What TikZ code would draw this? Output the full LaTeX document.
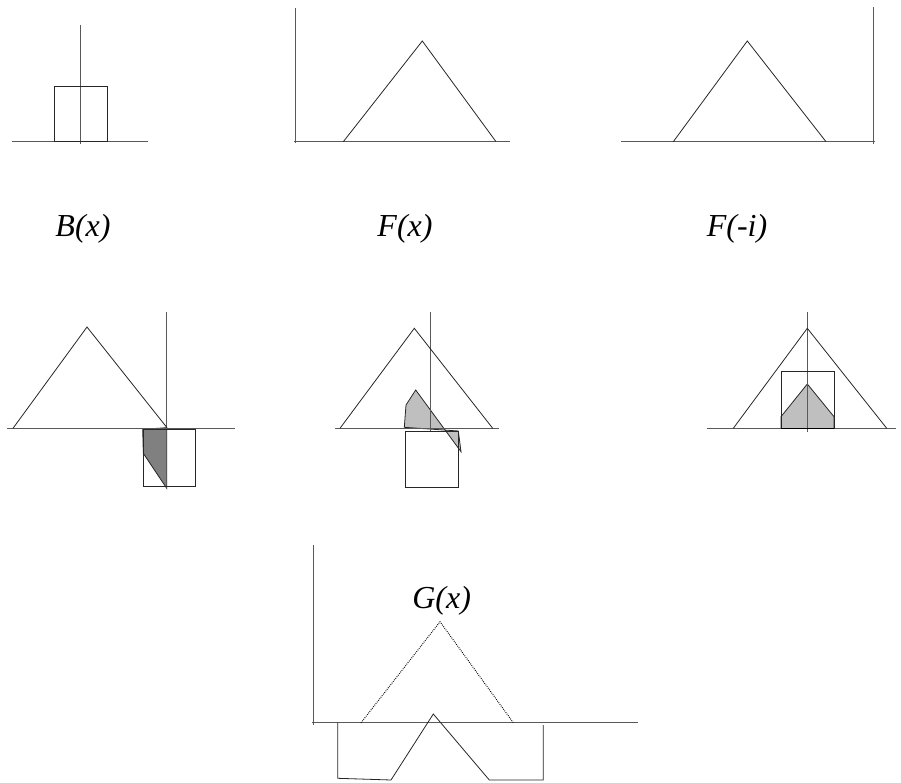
\documentclass[tikz,border=0pt]{standalone}
\usepackage{fontspec}
\setmainfont{Liberation Serif}
\begin{document}
\begin{tikzpicture}[x=1pt,y=-1pt,
  axisline/.style={draw=black!65,line width=0.9pt},
  figline/.style={draw=black!85,line width=0.8pt},
  dotline/.style={draw=black,line width=1pt,dash pattern=on 0.8pt off 1.2pt},
  lbl/.style={font=\fontsize{32}{38}\selectfont\itshape,anchor=base,inner sep=0pt}]
\useasboundingbox (0,0) rectangle (901,783);
% ---- top row, panel 1: B(x)
\draw[axisline] (12,141.7) -- (148,141.7);
\draw[axisline] (80,25) -- (80,144);
\draw[figline] (54,86) rectangle (107,141.7);
\node[lbl] (lb) at (83,237) {B(x)};
% ---- panel 2: F(x)
\draw[axisline] (294,141.7) -- (510,141.7);
\draw[axisline] (295.7,8) -- (295.7,143);
\draw[figline] (343.3,141.7) -- (422.3,41) -- (496,141.7);
\node[lbl] (lf) at (405,237) {F(x)};
% ---- panel 3: F(-i)
\draw[axisline] (621,141.7) -- (875,141.7);
\draw[axisline] (873.3,7.3) -- (873.3,144);
\draw[figline] (673.3,141.7) -- (747.3,41) -- (826,141.7);
\node[lbl] (lfi) at (737,237) {F(-i)};
% ---- middle row, panel 1
\fill[black!50] (142.7,429.3) -- (166.7,427.7) -- (166.7,488.3) -- (143.3,453.3) -- cycle;
\draw[figline] (142.7,429.3) -- (166.7,427.7) -- (166.7,488.3) -- (143.3,453.3) -- cycle;
\draw[axisline] (7,428.3) -- (235,428.3);
\draw[axisline] (166.7,312) -- (166.7,488);
\draw[figline] (13,428.3) -- (87,327) -- (167,427.7);
\draw[figline] (143,429.3) rectangle (195,486);
% ---- middle row, panel 2
\fill[black!25] (415.7,390) -- (406,405) -- (404.3,427.3) -- (458.3,431) -- (461,451.7) -- cycle;
\draw[figline] (415.7,390) -- (406,405) -- (404.3,427.3) -- (458.3,431) -- (461,451.7) -- cycle;
\draw[axisline] (335,428.3) -- (499,428.3);
\draw[axisline] (430,312) -- (430,431);
\draw[figline] (340,428.3) -- (414.3,328.3) -- (492.7,428.3);
\draw[figline] (405.3,431) rectangle (458.3,487.7);
% ---- middle row, panel 3
\fill[black!25] (781,428.3) -- (781,416.7) -- (807.3,384) -- (834,416.7) -- (834,428.3) -- cycle;
\draw[figline] (781,428.3) -- (781,416.7) -- (807.3,384) -- (834,416.7) -- (834,428.3);
\draw[axisline] (706.7,428.3) -- (896,428.3);
\draw[axisline] (807.3,311.7) -- (807.3,431.7);
\draw[figline] (733.3,428.3) -- (807.3,328.3) -- (886.7,428.3);
\draw[figline] (781,371.7) rectangle (834,428.3);
\draw[draw=black,line width=1.6pt] (781,428.3) -- (834,428.3);
% ---- bottom panel: G(x)
\draw[axisline] (313.3,545) -- (313.3,725);
\draw[axisline] (312,722.7) -- (638.3,722.7);
\draw[dotline] (361,722.7) -- (440,621.7) -- (513.3,722.7);
\draw[figline] (337.7,722.7) -- (337.7,778.3) -- (391,780) -- (433.3,714) -- (489.3,780) -- (543.3,780) -- (543.3,725);
\node[lbl] (lg) at (441.7,608) {G(x)};
\end{tikzpicture}
\end{document}
